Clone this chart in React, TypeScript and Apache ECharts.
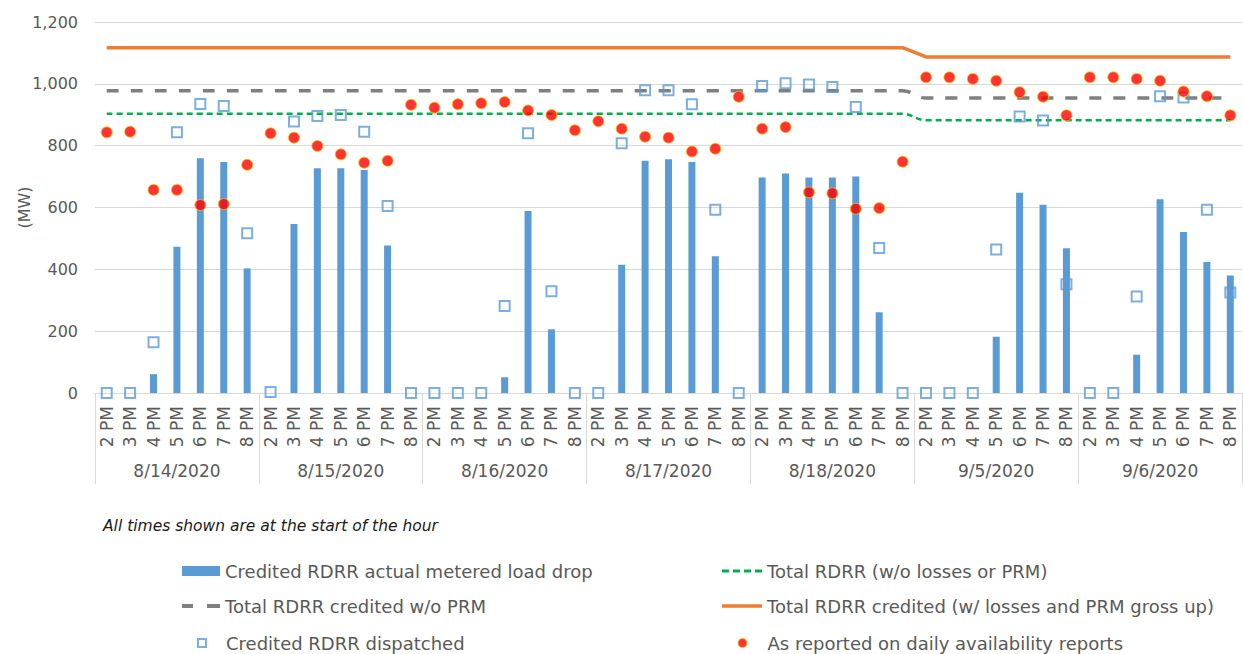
import React, { useEffect, useRef } from 'react';
import * as echarts from 'echarts';

const days = ['8/14/2020', '8/15/2020', '8/16/2020', '8/17/2020', '8/18/2020', '9/5/2020', '9/6/2020'];
const hours = ['2 PM', '3 PM', '4 PM', '5 PM', '6 PM', '7 PM', '8 PM'];

const meteredLoadDrop = [
  0, 0, 61, 473, 759, 747, 403,
  0, 547, 727, 727, 721, 477, 0,
  0, 0, 0, 51, 589, 206, 0,
  0, 415, 751, 756, 747, 442, 0,
  697, 710, 697, 697, 700, 261, 0,
  0, 0, 0, 182, 648, 609, 468,
  0, 0, 124, 627, 521, 424, 380,
];

const dispatched = [
  0, 0, 164, 843, 935, 928, 517,
  3, 878, 896, 899, 845, 605, 0,
  0, 0, 0, 281, 840, 329, 0,
  0, 808, 979, 979, 934, 593, 0,
  993, 1002, 998, 990, 925, 469, 0,
  0, 0, 0, 464, 894, 881, 352,
  0, 0, 312, 960, 956, 593, 325,
];

const reported = [
  843, 845, 657, 657, 608, 611, 738,
  840, 826, 799, 772, 745, 751, 932,
  923, 934, 937, 941, 914, 899, 850,
  879, 855, 829, 826, 781, 790, 958,
  855, 860, 649, 646, 596, 598, 748,
  1021, 1021, 1016, 1010, 973, 958, 898,
  1021, 1021, 1016, 1010, 975, 960, 898,
];

const totalNoLossesPRM = [
  903, 903, 903, 903, 903, 903, 903,
  903, 903, 903, 903, 903, 903, 903,
  903, 903, 903, 903, 903, 903, 903,
  903, 903, 903, 903, 903, 903, 903,
  903, 903, 903, 903, 903, 903, 903,
  882, 882, 882, 882, 882, 882, 882,
  882, 882, 882, 882, 882, 882, 882,
];

const totalCreditedNoPRM = [
  978, 978, 978, 978, 978, 978, 978,
  978, 978, 978, 978, 978, 978, 978,
  978, 978, 978, 978, 978, 978, 978,
  978, 978, 978, 978, 978, 978, 978,
  978, 978, 978, 978, 978, 978, 978,
  954, 954, 954, 954, 954, 954, 954,
  954, 954, 954, 954, 954, 954, 954,
];

const totalCreditedGrossUp = [
  1117, 1117, 1117, 1117, 1117, 1117, 1117,
  1117, 1117, 1117, 1117, 1117, 1117, 1117,
  1117, 1117, 1117, 1117, 1117, 1117, 1117,
  1117, 1117, 1117, 1117, 1117, 1117, 1117,
  1117, 1117, 1117, 1117, 1117, 1117, 1117,
  1087, 1087, 1087, 1087, 1087, 1087, 1087,
  1087, 1087, 1087, 1087, 1087, 1087, 1087,
];

const yMin = 0;
const yMax = 1200;
const yStep = 200;

const seriesNames = {
  bar: 'Credited RDRR actual metered load drop',
  grey: 'Total RDRR credited w/o PRM',
  squares: 'Credited RDRR dispatched',
  green: 'Total RDRR (w/o losses or PRM)',
  orange: 'Total RDRR credited (w/ losses and PRM gross up)',
  dots: 'As reported on daily availability reports',
};

const noteText = 'All times shown are at the start of the hour';

const FONT = 'DejaVu Sans';
const TEXT_COLOR = '#595959';
const GRID_COLOR = '#d9d9d9';
const BLUE = '#5b9bd5';
const GREY = '#7f7f7f';
const GREEN = '#00b050';
const ORANGE = '#ed7d31';

export default function App() {
  const ref = useRef<HTMLDivElement>(null);

  useEffect(() => {
    if (!ref.current) return;
    const chart = echarts.init(ref.current, undefined, { renderer: 'svg' });
    const categories = days.flatMap((d) => hours.map((h) => `${d}|${h}`));

    const legendItem = (
      name: string,
      left: number,
      top: number,
      icon: string,
      itemWidth: number,
      itemHeight: number,
      itemStyle: any,
    ) => ({
      orient: 'horizontal',
      left,
      top,
      padding: 0,
      itemWidth,
      itemHeight,
      selectedMode: false,
      itemStyle,
      textStyle: { fontFamily: FONT, fontSize: 18, color: TEXT_COLOR, lineHeight: 20 },
      data: [{ name, icon }],
    });

    const row1 = 561;
    const row2 = 596;
    const row3 = 633;

    chart.setOption({
      animation: false,
      textStyle: { fontFamily: FONT },
      grid: {
        left: 95,
        top: 22,
        right: 1,
        bottom: 261,
        containLabel: false,
        outerBoundsMode: 'none',
      },
      xAxis: [
        {
          type: 'category',
          data: categories,
          boundaryGap: true,
          axisLine: { show: true, lineStyle: { color: GRID_COLOR, width: 1 } },
          axisTick: { show: false },
          axisLabel: {
            interval: 0,
            rotate: 90,
            margin: 13,
            fontSize: 17,
            color: TEXT_COLOR,
            fontFamily: FONT,
            formatter: (v: string) => v.split('|')[1],
          },
          splitLine: { show: false },
        },
        {
          type: 'category',
          data: days,
          position: 'bottom',
          boundaryGap: true,
          axisLine: { show: false },
          axisTick: { show: true, length: 91, lineStyle: { color: GRID_COLOR, width: 1 } },
          axisLabel: { margin: 69, fontSize: 17, color: TEXT_COLOR, fontFamily: FONT },
          splitLine: { show: false },
        },
      ],
      yAxis: {
        type: 'value',
        min: yMin,
        max: yMax,
        interval: yStep,
        name: '(MW)',
        nameLocation: 'middle',
        nameGap: 63,
        nameRotate: 90,
        nameMoveOverlap: false,
        nameTextStyle: { fontSize: 16, color: TEXT_COLOR, fontFamily: FONT },
        axisLine: { show: false },
        axisTick: { show: false },
        axisLabel: {
          margin: 17,
          fontSize: 16,
          color: TEXT_COLOR,
          fontFamily: FONT,
          formatter: (v: number) => v.toLocaleString('en-US'),
        },
        splitLine: { lineStyle: { color: GRID_COLOR, width: 1 } },
      },
      legend: [
        legendItem(seriesNames.bar, 182, row1, 'rect', 38, 10, { color: BLUE, borderWidth: 0 }),
        legendItem(
          seriesNames.grey, 182, row2,
          'path://M0,0h11v4h-11zM25,0h13v4h-13z', 38, 4,
          { color: GREY, borderWidth: 0 },
        ),
        legendItem(
          seriesNames.squares, 182, row3,
          'path://M0,0M15,1h8v8h-8zM38,10', 38, 10,
          { color: 'rgba(255,255,255,0)', borderColor: BLUE, borderWidth: 2 },
        ),
        legendItem(
          seriesNames.green, 722, row1,
          'path://M0,0h7v3h-7zM11,0h7v3h-7zM22,0h7v3h-7zM33,0h7v3h-7z', 40, 3,
          { color: GREEN, borderWidth: 0 },
        ),
        legendItem(seriesNames.orange, 722, row2, 'rect', 40, 3.5, { color: ORANGE, borderWidth: 0 }),
        legendItem(
          seriesNames.dots, 722, row3,
          'path://M0,0M15.5,5a4.5,4.5 0 1,0 9,0a4.5,4.5 0 1,0 -9,0zM40,10', 40, 10,
          { color: '#ff0000', borderColor: '#ffc000', borderWidth: 1 },
        ),
      ],
      graphic: [
        {
          type: 'text',
          left: 103,
          top: 518,
          style: {
            text: noteText,
            font: `italic 15.5px "${FONT}"`,
            fill: '#1a1a1a',
          },
        },
      ],
      series: [
        {
          name: seriesNames.bar,
          type: 'bar',
          data: meteredLoadDrop,
          barWidth: 7,
          itemStyle: { color: BLUE },
          z: 2,
        },
        {
          name: seriesNames.grey,
          type: 'line',
          data: totalCreditedNoPRM,
          symbol: 'none',
          smooth: 0.4,
          itemStyle: { color: GREY },
          lineStyle: { color: GREY, width: 3.5, type: [12, 12] },
          z: 3,
        },
        {
          name: seriesNames.squares,
          type: 'scatter',
          data: dispatched,
          symbol: 'rect',
          symbolSize: 10,
          itemStyle: { color: 'rgba(255,255,255,0)', borderColor: BLUE, borderWidth: 2 },
          z: 4,
        },
        {
          name: seriesNames.green,
          type: 'line',
          data: totalNoLossesPRM,
          symbol: 'none',
          smooth: 0.4,
          itemStyle: { color: GREEN },
          lineStyle: { color: GREEN, width: 2.5, type: [6, 4] },
          z: 3,
        },
        {
          name: seriesNames.orange,
          type: 'line',
          data: totalCreditedGrossUp,
          symbol: 'none',
          itemStyle: { color: ORANGE },
          lineStyle: { color: ORANGE, width: 3.5 },
          z: 3,
        },
        {
          name: seriesNames.dots,
          type: 'scatter',
          data: reported,
          symbol: 'circle',
          symbolSize: 11,
          itemStyle: { color: '#ff0000', borderColor: '#ffc000', borderWidth: 1 },
          z: 5,
        },
      ],
    });

    return () => chart.dispose();
  }, []);

  return (
    <div
      ref={ref}
      style={{ position: 'fixed', left: 0, top: 0, width: 1243, height: 654, background: '#ffffff' }}
    />
  );
}
